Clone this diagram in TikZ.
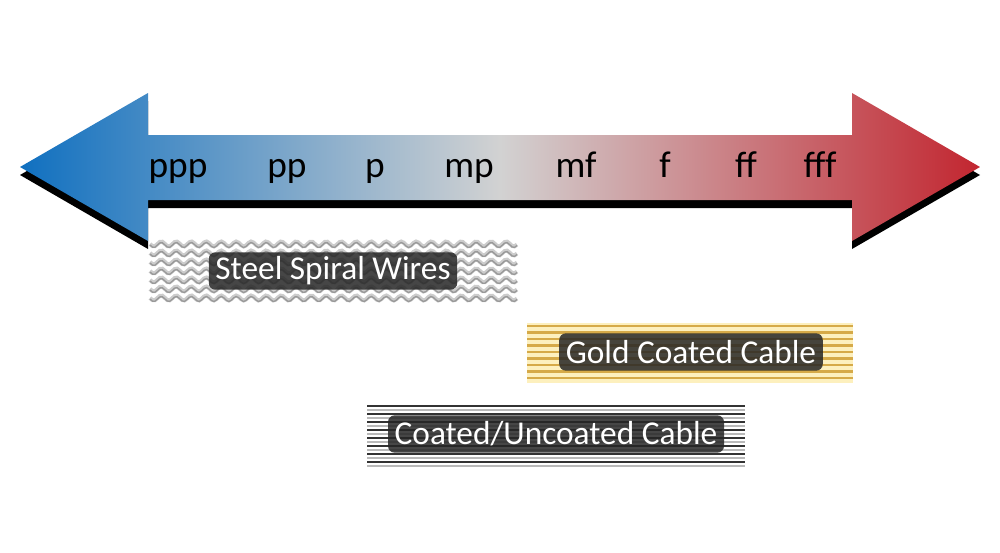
\documentclass[tikz,border=0pt]{standalone}
\usepackage{fontspec}
\setmainfont{Carlito}
\definecolor{pianoblue}{RGB}{16,112,192}
\definecolor{midgray}{RGB}{210,210,210}
\definecolor{fortered}{RGB}{194,38,48}
\definecolor{goldline}{RGB}{214,170,72}
\definecolor{goldlight}{RGB}{253,240,190}
\begin{document}
\begin{tikzpicture}[x=0.75pt,y=-0.75pt,
	dyn/.style={anchor=base,inner sep=0pt,font=\fontsize{28}{30}\selectfont},
	tag/.style={rounded corners=5pt,fill=black!85,fill opacity=0.85,text opacity=1,text=white,inner xsep=5pt,minimum height=28pt,font=\fontsize{25}{28}\selectfont}]

	\useasboundingbox (0,0) rectangle (1000,553);

	% double arrow with its shadow
	\fill[black] (20,175) -- (148,101) -- (148,143) -- (852,143) -- (852,101) -- (980,175) -- (852,249) -- (852,208) -- (148,208) -- (148,249) -- cycle;
	\shade[left color=pianoblue,right color=fortered,middle color=midgray] (20,167) -- (148,93) -- (148,135) -- (852,135) -- (852,93) -- (980,167) -- (852,241) -- (852,200) -- (148,200) -- (148,241) -- cycle;

	\foreach \lbl/\xpos in {ppp/178,pp/287,p/375,mp/469,mf/576,f/665,ff/746,fff/820}
		\node[dyn] (\lbl) at (\xpos,177) {\lbl};

	% steel spiral wires
	\foreach \yy in {244,253,...,298} {
		\draw[gray!40,line width=3pt] plot[domain=150:517,samples=150] (\x,{\yy+2.5*sin(24*\x)});
		\draw[gray!80,line width=1pt] plot[domain=150:517,samples=150] (\x,{\yy+1+2.5*sin(24*\x)});
	}
	% gold coated cable
	\fill[goldlight] (527,323) rectangle (853,383);
	\foreach \yy in {326,332.5,...,382}
		\draw[goldline,line width=2.2pt] (527,\yy) -- (853,\yy);
	% coated / uncoated cable
	\foreach \yy in {406,414,...,462} {
		\draw[black!80,line width=2.2pt] (367,\yy) -- (745,\yy);
		\draw[gray!55,line width=1.5pt] (367,\yy+3.5) -- (745,\yy+3.5);
	}

	\node[tag] (steel) at (333,271) {Steel Spiral Wires};
	\node[tag] (gold) at (691,352) {Gold Coated Cable};
	\node[tag] (coated) at (556,434) {Coated/Uncoated Cable};

\end{tikzpicture}
\end{document}
